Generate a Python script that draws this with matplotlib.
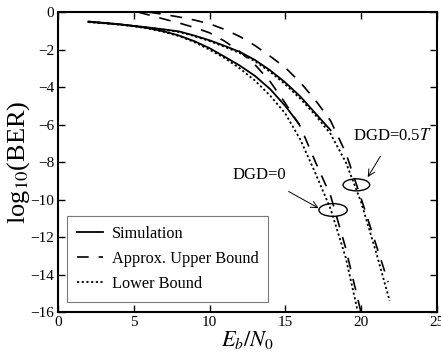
import matplotlib
matplotlib.use('Agg')
import matplotlib.pyplot as plt
from matplotlib.patches import Ellipse

plt.rcParams['font.family'] = ['Liberation Serif', 'DejaVu Serif']
plt.rcParams['mathtext.fontset'] = 'stix'

# DGD = 0
x0_sim = [2, 3, 4, 5, 6, 7, 8, 9, 10, 11, 12, 13, 14, 15, 15.9]
y0_sim = [-0.50, -0.57, -0.64, -0.74, -0.86, -1.03, -1.25, -1.55, -1.92,
          -2.38, -2.85, -3.4, -4.1, -5.0, -5.95]
x0_up = [5.3, 6, 7, 8, 9, 10, 11, 12, 13, 14, 15, 16, 17, 18, 19, 20.0]
y0_up = [0.0, -0.15, -0.37, -0.58, -0.82, -1.1, -1.55, -2.1, -2.8, -3.7,
         -4.85, -6.1, -8.0, -9.8, -12.6, -16.0]
x0_low = [2, 3, 4, 5, 6, 7, 8, 9, 10, 11, 12, 13, 14, 15, 16, 17, 18, 19, 19.8]
y0_low = [-0.5, -0.57, -0.65, -0.75, -0.88, -1.05, -1.28, -1.6, -2.0, -2.45,
          -3.0, -3.65, -4.45, -5.4, -6.8, -8.6, -10.5, -13.1, -16.0]

# DGD = 0.5T
x5_sim = [2, 3, 4, 5, 6, 7, 8, 9, 10, 11, 12, 13, 14, 15, 16, 17, 18]
y5_sim = [-0.52, -0.58, -0.65, -0.73, -0.82, -0.92, -1.03, -1.25, -1.5, -1.8,
          -2.12, -2.55, -3.1, -3.75, -4.5, -5.4, -6.3]
x5_up = [6, 7, 8, 9, 10, 11, 12, 13, 14, 15, 16, 17, 18, 19, 20, 21, 21.8]
y5_up = [0.0, -0.12, -0.26, -0.42, -0.62, -0.92, -1.3, -1.78, -2.35, -2.95,
         -3.75, -4.7, -5.8, -7.5, -9.9, -12.4, -14.4]
x5_low = [2, 3, 4, 5, 6, 7, 8, 9, 10, 11, 12, 13, 14, 15, 16, 17, 18, 19, 20, 21, 21.9]
y5_low = [-0.53, -0.59, -0.66, -0.74, -0.83, -0.94, -1.06, -1.28, -1.54, -1.85,
          -2.18, -2.62, -3.18, -3.85, -4.62, -5.5, -6.5, -8.0, -10.1, -12.8, -15.4]

fig = plt.figure(figsize=(4.41, 3.58), dpi=100)
ax = fig.add_axes([0.132, 0.128, 0.858, 0.838])

dash = (7, 6)
dot = (1.2, 1.4)
ax.plot(x0_sim, y0_sim, color='black', lw=1.3, label='Simulation')
ax.plot(x0_up, y0_up, color='black', lw=1.2, dashes=dash, label='Approx. Upper Bound')
ax.plot(x0_low, y0_low, color='black', lw=1.3, dashes=dot, label='Lower Bound')
ax.plot(x5_sim, y5_sim, color='black', lw=1.3)
ax.plot(x5_up, y5_up, color='black', lw=1.2, dashes=dash)
ax.plot(x5_low, y5_low, color='black', lw=1.3, dashes=dot)

# ellipses marking the curve groups
ax.add_patch(Ellipse((18.16, -10.55), 1.87, 0.68, fill=False, lw=1.0, color='black'))
ax.add_patch(Ellipse((19.7, -9.21), 1.76, 0.64, fill=False, lw=1.0, color='black'))

ax.annotate('DGD=0', xy=(17.2, -10.45), xytext=(13.3, -8.7),
            ha='center', va='center', fontsize=12,
            arrowprops=dict(arrowstyle='->', lw=0.7, color='black',
                            shrinkA=8, shrinkB=0))
ax.annotate('DGD=0.5$T$', xy=(20.45, -8.8), xytext=(22.1, -6.6),
            ha='center', va='center', fontsize=12,
            arrowprops=dict(arrowstyle='->', lw=0.7, color='black',
                            shrinkA=8, shrinkB=0))

ax.set_xlim(0, 25)
ax.set_ylim(-16, 0)
ax.set_xticks([0, 5, 10, 15, 20, 25])
ax.set_yticks([0, -2, -4, -6, -8, -10, -12, -14, -16])
ax.tick_params(direction='in', top=True, right=True, length=5, width=1,
               labelsize=11, pad=3)
for s in ax.spines.values():
    s.set_linewidth(1.5)

ax.set_xlabel(r'$E_b/N_0$', fontsize=16, labelpad=0)
ax.set_ylabel(r'log$_{10}$(BER)', fontsize=19, labelpad=-1)

leg = ax.legend(loc='lower left', bbox_to_anchor=(0.024, 0.035), fontsize=11.7,
                frameon=True, fancybox=False, edgecolor='0.35',
                handlelength=1.6, handletextpad=0.55, borderpad=0.6,
                labelspacing=0.55, borderaxespad=0)
leg.get_frame().set_linewidth(0.8)

fig.savefig('out.png', dpi=100)
